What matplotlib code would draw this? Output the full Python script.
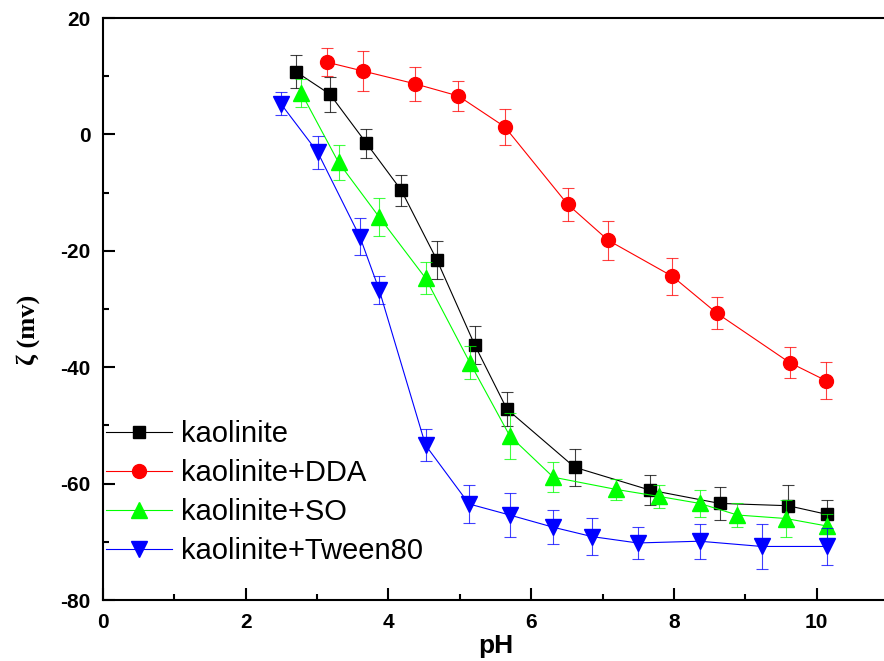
import matplotlib
matplotlib.use("Agg")
import matplotlib.pyplot as plt
from matplotlib.ticker import MultipleLocator

plt.rcParams["axes.unicode_minus"] = False

# kaolinite
ph_k = [2.70, 3.18, 3.69, 4.18, 4.68, 5.21, 5.66, 6.61, 7.66, 8.64, 9.60, 10.15]
zeta_k = [10.8, 6.9, -1.5, -9.6, -21.6, -36.2, -47.2, -57.2, -61.1, -63.4, -63.8, -65.3]
err_k = [2.9, 3.0, 2.5, 2.7, 3.3, 3.3, 2.9, 3.2, 2.5, 2.8, 3.5, 2.5]

# kaolinite + DDA
ph_dda = [3.14, 3.64, 4.37, 4.98, 5.63, 6.51, 7.08, 7.98, 8.60, 9.62, 10.13]
zeta_dda = [12.4, 10.9, 8.7, 6.6, 1.3, -12.0, -18.2, -24.4, -30.7, -39.2, -42.3]
err_dda = [2.4, 3.5, 2.9, 2.5, 3.1, 2.8, 3.4, 3.2, 2.8, 2.6, 3.2]

# kaolinite + SO
ph_so = [2.78, 3.30, 3.87, 4.52, 5.14, 5.70, 6.31, 7.19, 7.79, 8.36, 8.89, 9.57, 10.15]
zeta_so = [7.1, -4.8, -14.2, -24.7, -39.2, -51.8, -58.9, -61.0, -62.2, -63.4, -65.4, -66.0, -67.3]
err_so = [2.4, 3.0, 3.2, 2.7, 2.8, 4.0, 2.6, 1.8, 2.0, 2.3, 2.1, 3.2, 2.0]

# kaolinite + Tween80
ph_tw = [2.49, 3.01, 3.60, 3.87, 4.52, 5.13, 5.70, 6.31, 6.85, 7.49, 8.36, 9.23, 10.14]
zeta_tw = [5.3, -3.1, -17.6, -26.7, -53.4, -63.5, -65.4, -67.5, -69.1, -70.2, -69.9, -70.8, -70.8]
err_tw = [1.9, 2.9, 3.2, 2.4, 2.8, 3.2, 3.8, 2.9, 3.2, 2.7, 3.0, 3.8, 3.2]

series = [
    (ph_k, zeta_k, err_k, "kaolinite", "black", "s", 9),
    (ph_dda, zeta_dda, err_dda, "kaolinite+DDA", "#ff0000", "o", 10),
    (ph_so, zeta_so, err_so, "kaolinite+SO", "#00ff00", "^", 11),
    (ph_tw, zeta_tw, err_tw, "kaolinite+Tween80", "#0000ff", "v", 11),
]

fig = plt.figure(figsize=(8.84, 6.61), dpi=100)
ax = fig.add_axes([103/884, 61/661, 785/884, 582/661])

handles = []
for x, y, e, label, color, marker, ms in series:
    ax.errorbar(x, y, yerr=e, fmt="none", ecolor=color, elinewidth=0.8,
                capsize=4.5, capthick=0.8, alpha=0.75)
    h, = ax.plot(x, y, color=color, lw=0.8, marker=marker, markersize=ms,
                 markeredgecolor=color, markerfacecolor=color, label=label)
    handles.append(h)

ax.set_xlim(0, 11)
ax.set_ylim(-80, 20)
ax.xaxis.set_major_locator(MultipleLocator(2))
ax.xaxis.set_minor_locator(MultipleLocator(1))
ax.yaxis.set_major_locator(MultipleLocator(20))
ax.yaxis.set_minor_locator(MultipleLocator(10))
ax.tick_params(which="both", direction="in", top=False, right=False, width=1.5)
ax.tick_params(which="major", length=8.5, pad=9)
ax.tick_params(which="minor", length=4.3)
for lab in ax.get_xticklabels() + ax.get_yticklabels():
    lab.set_fontfamily("Liberation Sans")
    lab.set_fontweight("bold")
    lab.set_fontsize(15)
for s in ax.spines.values():
    s.set_linewidth(1.5)
ax.spines["right"].set_visible(False)

ax.set_xlabel("pH", fontsize=19, fontweight="bold", family="Liberation Sans", labelpad=2)
fig.text(28/884, 1 - 330/661, "ζ (mv)", rotation=90, ha="center", va="center",
         fontsize=19, fontweight="bold", family="Liberation Serif")

leg = ax.legend(handles=handles, loc="upper left", bbox_to_anchor=(106/884, 1 - 420/661),
                bbox_transform=fig.transFigure, frameon=False, numpoints=1,
                prop={"family": "Liberation Sans", "size": 21},
                handlelength=2.25, handletextpad=0.33, labelspacing=0.38,
                borderpad=0, borderaxespad=0)

fig.savefig("out.png", dpi=100)
